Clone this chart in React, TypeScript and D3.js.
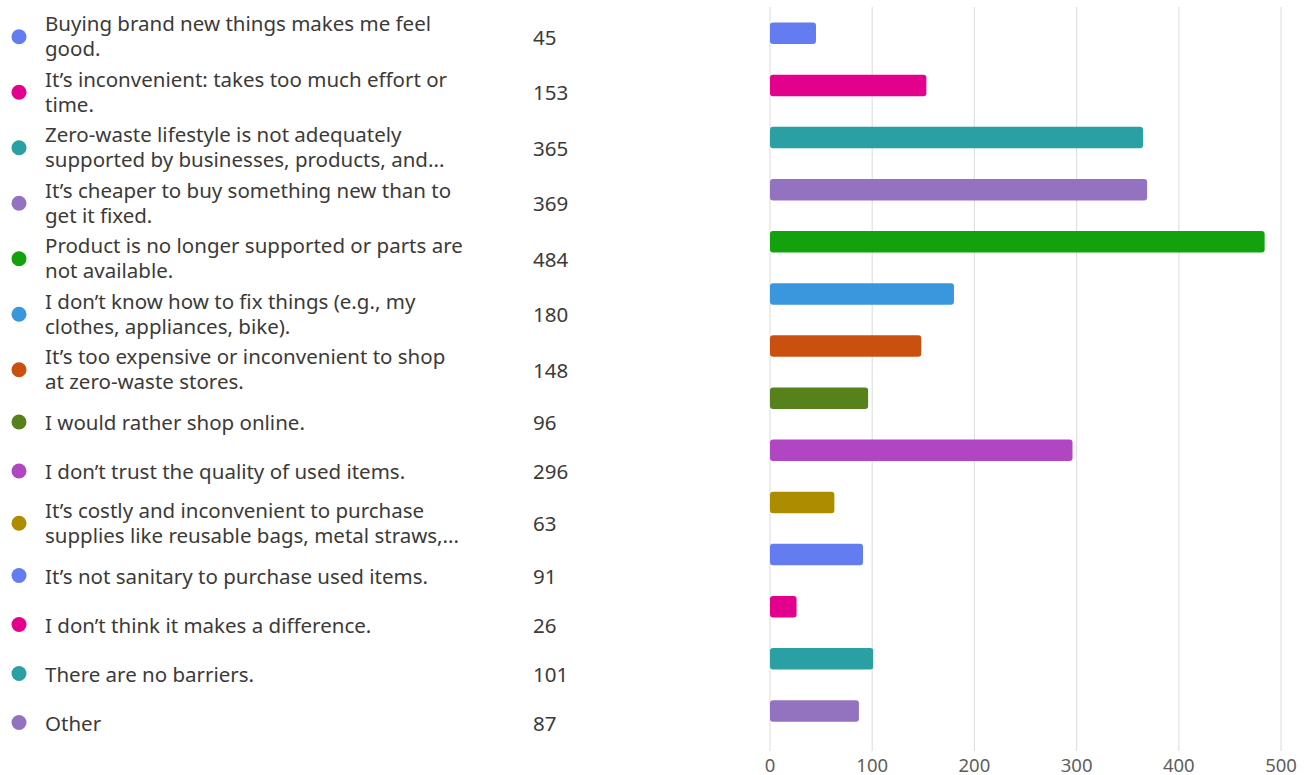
import React from "react";
import * as d3 from "d3";

const categories: string[] = [
  "Buying brand new things makes me feel\ngood.",
  "It’s inconvenient: takes too much effort or\ntime.",
  "Zero-waste lifestyle is not adequately\nsupported by businesses, products, and...",
  "It’s cheaper to buy something new than to\nget it fixed.",
  "Product is no longer supported or parts are\nnot available.",
  "I don’t know how to fix things (e.g., my\nclothes, appliances, bike).",
  "It’s too expensive or inconvenient to shop\nat zero-waste stores.",
  "I would rather shop online.",
  "I don’t trust the quality of used items.",
  "It’s costly and inconvenient to purchase\nsupplies like reusable bags, metal straws,...",
  "It’s not sanitary to purchase used items.",
  "I don’t think it makes a difference.",
  "There are no barriers.",
  "Other",
];

const values: number[] = [45, 153, 365, 369, 484, 180, 148, 96, 296, 63, 91, 26, 101, 87];

const colors: string[] = [
  "#637CEF", "#E3008C", "#2AA0A4", "#9373C0", "#13A10E", "#3A96DD", "#CA5010",
  "#57811B", "#B146C2", "#AE8C00", "#637CEF", "#E3008C", "#2AA0A4", "#9373C0",
];

const xTicks: number[] = [0, 100, 200, 300, 400, 500];

const W = 1307;
const H = 775;
const FONT = "'Noto Sans', 'Open Sans', sans-serif";

export default function App() {
  const x = d3.scaleLinear().domain([0, 500]).range([770, 1281]);
  const y = d3
    .scaleBand<number>()
    .domain(d3.range(values.length))
    .range([7.2, 737])
    .paddingInner(0.59)
    .paddingOuter(0.295);

  const barH = 21.5;

  // legend row positions
  const rows: { cy: number; lines: string[] }[] = [];
  let cur = 9;
  categories.forEach((c) => {
    const lines = c.split("\n");
    const h = lines.length === 2 ? 55.5 : 49;
    rows.push({ cy: cur + h / 2, lines });
    cur += h;
  });

  return (
    <svg
      width={W}
      height={H}
      style={{ position: "absolute", left: 0, top: 0, background: "#fff" }}
      fontFamily={FONT}
    >
      {/* gridlines */}
      {xTicks.map((t) => (
        <line
          key={"g" + t}
          x1={x(t)}
          x2={x(t)}
          y1={7}
          y2={751}
          stroke="#e1e1e1"
          strokeWidth={1.2}
        />
      ))}
      {/* bars */}
      {values.map((v, i) => {
        const cy = (y(i) as number) + y.bandwidth() / 2;
        return (
          <rect
            key={"b" + i}
            x={x(0)}
            y={cy - barH / 2}
            width={x(v) - x(0)}
            height={barH}
            rx={3}
            ry={3}
            fill={colors[i]}
          />
        );
      })}
      {/* x tick labels */}
      {xTicks.map((t) => (
        <text
          key={"t" + t}
          x={x(t)}
          y={764}
          textAnchor="middle"
          dominantBaseline="central"
          fontSize={18.5}
          fill="#605e5c"
        >
          {t}
        </text>
      ))}
      {/* legend */}
      {rows.map((r, i) => (
        <g key={"l" + i}>
          <circle cx={19} cy={r.cy} r={7.5} fill={colors[i]} />
          <text
            x={45}
            y={r.lines.length === 2 ? r.cy - 13.5 : r.cy}
            dominantBaseline="central"
            fontSize={20.5}
            fill="#3b3a39"
          >
            {r.lines.map((ln, j) => (
              <tspan key={j} x={45} dy={j === 0 ? 0 : 25}>
                {ln}
              </tspan>
            ))}
          </text>
          <text
            x={533}
            y={r.cy}
            dominantBaseline="central"
            fontSize={20.5}
            fill="#3b3a39"
          >
            {values[i]}
          </text>
        </g>
      ))}
    </svg>
  );
}
